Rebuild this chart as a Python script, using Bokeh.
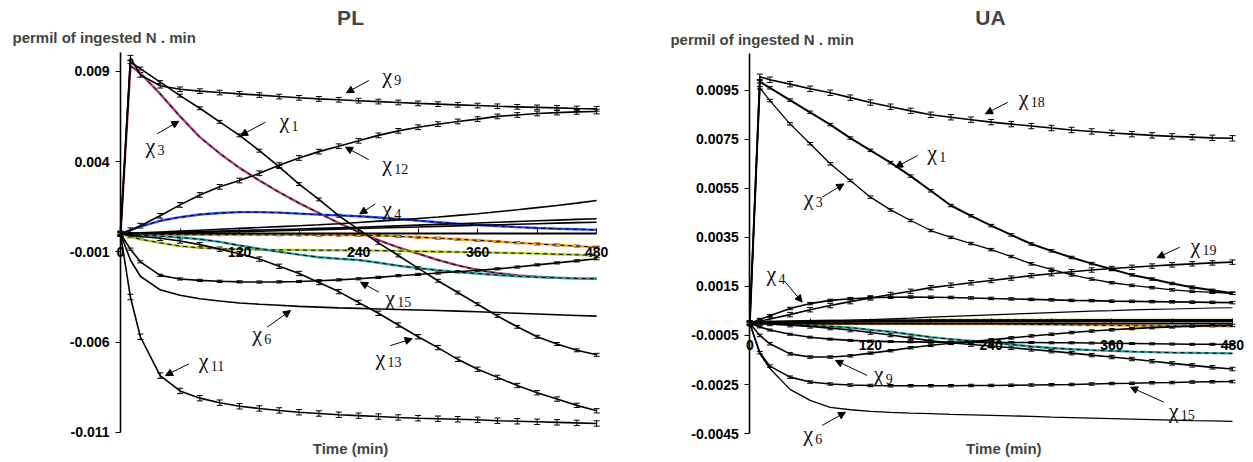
from bokeh.plotting import figure
from bokeh.layouts import row
from bokeh.models import (FixedTicker, PrintfTickFormatter, Label, Arrow, NormalHead,
                          Whisker, TeeHead, ColumnDataSource, Range1d)
from bokeh.embed import file_html
from bokeh.resources import INLINE

# ---------------- data (values in permil units x 1e-3) ----------------
T = [0, 10, 20, 40, 60, 80, 100, 120, 140, 160, 180, 200, 220, 240, 260, 280,
     300, 320, 340, 360, 380, 400, 420, 440, 460, 480]
SCALE = 1e-3

# PL panel
PL_X9 = [0, 9.75, 8.8, 8.2, 8.0, 7.9, 7.82, 7.75, 7.68, 7.6, 7.53, 7.47, 7.42, 7.37, 7.32, 7.27, 7.22, 7.18, 7.14, 7.1, 7.06, 7.03, 7.0, 6.97, 6.94, 6.92]
PL_X12 = [0, 0.2, 0.45, 1.0, 1.6, 2.15, 2.6, 2.95, 3.35, 3.8, 4.2, 4.55, 4.85, 5.15, 5.45, 5.7, 5.9, 6.07, 6.22, 6.35, 6.5, 6.58, 6.66, 6.71, 6.75, 6.77]
PL_X1 = [0, 9.5, 9.15, 8.4, 7.65, 6.95, 6.2, 5.45, 4.6, 3.7, 2.75, 1.9, 1.0, 0.25, -0.5, -1.2, -1.9, -2.6, -3.25, -3.9, -4.55, -5.15, -5.7, -6.1, -6.45, -6.7]
PL_X3 = [0, 9.3, 8.9, 7.75, 6.5, 5.35, 4.45, 3.65, 2.95, 2.3, 1.7, 1.15, 0.6, 0.1, -0.35, -0.75, -1.1, -1.45, -1.75, -2.0, -2.18, -2.3, -2.38, -2.43, -2.47, -2.49]
PL_X4 = [0, 0.2, 0.4, 0.72, 0.92, 1.07, 1.15, 1.2, 1.2, 1.17, 1.12, 1.06, 1.02, 0.97, 0.9, 0.82, 0.73, 0.64, 0.56, 0.49, 0.43, 0.37, 0.32, 0.28, 0.25, 0.22]
PL_S1 = [0, 0.02, 0.05, 0.1, 0.15, 0.2, 0.25, 0.3, 0.35, 0.4, 0.45, 0.5, 0.56, 0.63, 0.7, 0.77, 0.85, 0.93, 1.02, 1.11, 1.22, 1.33, 1.45, 1.57, 1.7, 1.84]
PL_S2 = [0, 0.01, 0.03, 0.06, 0.09, 0.12, 0.15, 0.18, 0.21, 0.24, 0.27, 0.3, 0.33, 0.36, 0.4, 0.44, 0.48, 0.52, 0.56, 0.6, 0.64, 0.68, 0.72, 0.76, 0.8, 0.83]
PL_S3 = [0, 0.01, 0.02, 0.04, 0.06, 0.08, 0.1, 0.12, 0.14, 0.17, 0.2, 0.23, 0.26, 0.29, 0.32, 0.35, 0.38, 0.41, 0.44, 0.47, 0.5, 0.53, 0.56, 0.59, 0.62, 0.64]
PL_OR = [0, -0.02, -0.03, -0.04, -0.05, -0.05, -0.05, -0.05, -0.05, -0.06, -0.06, -0.07, -0.07, -0.08, -0.1, -0.14, -0.19, -0.24, -0.3, -0.36, -0.43, -0.5, -0.56, -0.62, -0.68, -0.74]
PL_YG = [0, -0.15, -0.3, -0.5, -0.68, -0.78, -0.83, -0.86, -0.88, -0.89, -0.9, -0.91, -0.91, -0.92, -0.93, -0.95, -0.97, -0.99, -1.01, -1.03, -1.05, -1.07, -1.1, -1.13, -1.16, -1.2]
PL_TEAL = [0, -0.03, -0.07, -0.13, -0.2, -0.3, -0.45, -0.65, -0.83, -1.0, -1.15, -1.3, -1.38, -1.45, -1.6, -1.77, -1.9, -2.02, -2.12, -2.2, -2.28, -2.35, -2.4, -2.44, -2.47, -2.49]
PL_X13 = [0, -0.1, -0.15, -0.25, -0.4, -0.6, -0.85, -1.1, -1.4, -1.8, -2.2, -2.7, -3.2, -3.8, -4.4, -5.05, -5.7, -6.3, -6.95, -7.5, -7.95, -8.4, -8.8, -9.15, -9.5, -9.8]
PL_X15 = [0, -0.85, -1.55, -2.3, -2.5, -2.58, -2.63, -2.66, -2.67, -2.66, -2.64, -2.6, -2.55, -2.49, -2.41, -2.32, -2.25, -2.17, -2.1, -2.02, -1.94, -1.84, -1.72, -1.61, -1.5, -1.38]
PL_X6 = [0, -1.45, -2.35, -3.1, -3.4, -3.6, -3.72, -3.83, -3.9, -3.96, -4.02, -4.06, -4.1, -4.13, -4.16, -4.19, -4.22, -4.25, -4.28, -4.32, -4.36, -4.4, -4.44, -4.48, -4.52, -4.56]
PL_X11 = [0, -3.5, -5.7, -7.85, -8.7, -9.1, -9.35, -9.55, -9.67, -9.78, -9.88, -9.95, -10.02, -10.07, -10.12, -10.17, -10.21, -10.24, -10.27, -10.3, -10.35, -10.38, -10.41, -10.44, -10.47, -10.5]

# UA panel
UA_X18 = [0, 10.05, 9.93, 9.75, 9.56, 9.4, 9.2, 9.0, 8.83, 8.66, 8.5, 8.4, 8.3, 8.2, 8.12, 8.04, 7.96, 7.88, 7.82, 7.76, 7.71, 7.66, 7.62, 7.59, 7.56, 7.54]
UA_X1 = [0, 9.85, 9.6, 9.1, 8.6, 8.1, 7.55, 7.05, 6.55, 6.0, 5.4, 4.8, 4.38, 3.98, 3.6, 3.23, 2.95, 2.68, 2.43, 2.2, 1.97, 1.8, 1.62, 1.47, 1.34, 1.22]
UA_X3 = [0, 9.6, 9.08, 8.13, 7.32, 6.5, 5.82, 5.14, 4.62, 4.19, 3.78, 3.5, 3.25, 3.0, 2.72, 2.42, 2.2, 1.97, 1.8, 1.65, 1.54, 1.45, 1.36, 1.3, 1.26, 1.22]
UA_X19 = [0, 0.08, 0.17, 0.35, 0.55, 0.72, 0.88, 1.03, 1.17, 1.3, 1.45, 1.55, 1.65, 1.74, 1.84, 1.94, 2.02, 2.1, 2.17, 2.23, 2.28, 2.33, 2.38, 2.42, 2.46, 2.49]
UA_X4 = [0, 0.15, 0.3, 0.6, 0.8, 0.93, 1.0, 1.04, 1.06, 1.07, 1.06, 1.05, 1.03, 1.01, 0.99, 0.97, 0.95, 0.93, 0.92, 0.9, 0.89, 0.88, 0.87, 0.86, 0.85, 0.84]
UA_S1 = [0, 0.01, 0.02, 0.04, 0.06, 0.09, 0.12, 0.15, 0.18, 0.21, 0.25, 0.28, 0.31, 0.34, 0.37, 0.4, 0.43, 0.46, 0.49, 0.51, 0.54, 0.56, 0.58, 0.6, 0.62, 0.63]
UA_S0 = [0, 0.02, 0.04, 0.06, 0.07, 0.08, 0.08, 0.09, 0.09, 0.09, 0.1, 0.1, 0.1, 0.1, 0.1, 0.1, 0.1, 0.1, 0.11, 0.11, 0.11, 0.11, 0.11, 0.11, 0.11, 0.11]
UA_OL = [0, 0.02, 0.04, 0.07, 0.09, 0.1, 0.11, 0.12, 0.12, 0.12, 0.13, 0.13, 0.13, 0.13, 0.13, 0.13, 0.13, 0.13, 0.13, 0.13, 0.13, 0.13, 0.13, 0.13, 0.13, 0.13]
UA_OR = [0, -0.01, -0.02, -0.03, -0.03, -0.03, -0.03, -0.03, -0.03, -0.03, -0.03, -0.03, -0.03, -0.03, -0.04, -0.05, -0.06, -0.07, -0.08, -0.09, -0.1, -0.11, -0.11, -0.12, -0.12, -0.13]
UA_X9 = [0, -0.5, -0.84, -1.25, -1.38, -1.38, -1.33, -1.22, -1.12, -1.0, -0.9, -0.82, -0.75, -0.68, -0.6, -0.52, -0.45, -0.38, -0.32, -0.27, -0.22, -0.18, -0.15, -0.12, -0.1, -0.09]
UA_B = [0, -0.15, -0.28, -0.45, -0.57, -0.65, -0.7, -0.73, -0.75, -0.76, -0.77, -0.77, -0.78, -0.78, -0.79, -0.79, -0.8, -0.8, -0.81, -0.82, -0.83, -0.84, -0.85, -0.86, -0.86, -0.87]
UA_TEAL = [0, -0.01, -0.02, -0.05, -0.09, -0.13, -0.18, -0.27, -0.35, -0.46, -0.57, -0.65, -0.72, -0.79, -0.87, -0.95, -1.01, -1.06, -1.1, -1.13, -1.16, -1.18, -1.2, -1.21, -1.22, -1.23]
UA_C = [0, -0.01, -0.03, -0.08, -0.13, -0.2, -0.28, -0.38, -0.48, -0.6, -0.72, -0.8, -0.87, -0.93, -1.0, -1.07, -1.14, -1.22, -1.3, -1.38, -1.46, -1.55, -1.64, -1.72, -1.8, -1.87]
UA_X15 = [0, -1.2, -1.75, -2.2, -2.4, -2.48, -2.52, -2.54, -2.55, -2.55, -2.55, -2.55, -2.54, -2.54, -2.53, -2.52, -2.51, -2.5, -2.48, -2.46, -2.45, -2.43, -2.42, -2.4, -2.39, -2.38]
UA_X6 = [0, -1.25, -1.85, -2.7, -3.15, -3.43, -3.53, -3.6, -3.64, -3.67, -3.69, -3.72, -3.74, -3.76, -3.78, -3.8, -3.83, -3.85, -3.87, -3.89, -3.91, -3.93, -3.95, -3.97, -3.98, -4.0]

# error half-widths (x 1e-3) for series drawn with error bars
PL_ERR = {"X9": 0.13, "X12": 0.13, "X1": 0.08, "X11": 0.15, "X13": 0.12, "X15": 0.06, "OR": 0.05}
UA_ERR = {"X18": 0.11, "X19": 0.09, "X1": 0.05, "X3": 0.05, "X4": 0.05, "X9": 0.05,
          "B": 0.04, "C": 0.07, "X15": 0.05}

PL_TICKS_Y = [-0.011, -0.006, -0.001, 0.004, 0.009]
PL_Y_BOUNDS = (-0.011, 0.01004)
UA_TICKS_Y = [-0.0045, -0.0025, -0.0005, 0.0015, 0.0035, 0.0055, 0.0075, 0.0095]
UA_Y_BOUNDS = (-0.0045, 0.0110)
X_TICKS = [0, 60, 120, 180, 240, 300, 360, 420, 480]
X_HIDDEN = [60, 180, 300, 420]
X_BOUNDS = (0, 480)

# ---------------- styling ----------------
PURPLE = "#a3427a"
BLUE = "#2846f0"
ORANGE = "#f59a1b"
YGREEN = "#a6c81e"
TEAL = "#2d9c9c"
OLIVE = "#a89b2a"
SANS = "Liberation Sans"
SERIF = "Liberation Serif"


def draw(p, vals, color=None, err=None, width=1.6):
    y = [v * SCALE for v in vals]
    if color is not None:
        p.line(T, y, color=color, line_width=2.4)
        p.line(T, y, color="black", line_width=1.0, line_dash="4 4")
    else:
        p.line(T, y, color="black", line_width=width)
    if err is not None:
        src = ColumnDataSource(dict(x=T, lo=[v - err * SCALE for v in y],
                                    hi=[v + err * SCALE for v in y]))
        p.add_layout(Whisker(source=src, base="x", lower="lo", upper="hi",
                             line_color="black", line_width=1,
                             upper_head=TeeHead(size=6, line_width=1, line_color="black"),
                             lower_head=TeeHead(size=6, line_width=1, line_color="black")))


def chi(p, sub, tx, ty, ax0, ay0, ax1, ay1):
    p.add_layout(Label(x=tx, y=ty * SCALE, text="χ", text_font=SERIF,
                       text_font_size="22px", text_baseline="middle", text_align="left",
                       text_color="#111111"))
    p.add_layout(Label(x=tx, y=ty * SCALE, x_offset=12, y_offset=-5, text=sub,
                       text_font=SERIF, text_font_size="14px", text_baseline="middle",
                       text_align="left", text_color="#111111"))
    p.add_layout(Arrow(x_start=ax0, y_start=ay0 * SCALE, x_end=ax1, y_end=ay1 * SCALE,
                       line_width=1, line_color="black",
                       end=NormalHead(size=7, fill_color="black", line_color="black")))


def make_fig(fw, xr, yr, ybounds, yticks, fmt, standoff):
    p = figure(frame_width=fw, frame_height=462, min_border=0,
               x_range=Range1d(*xr), y_range=Range1d(*yr),
               output_backend="svg", toolbar_location=None, tools="")
    p.outline_line_color = None
    p.grid.visible = False
    p.background_fill_color = "white"
    p.yaxis.fixed_location = 0
    p.yaxis.bounds = ybounds
    p.yaxis.ticker = FixedTicker(ticks=yticks)
    p.yaxis.formatter = PrintfTickFormatter(format=fmt)
    p.yaxis.major_tick_out = 5
    p.yaxis.major_tick_in = 0
    p.yaxis.minor_tick_line_color = None
    p.yaxis.axis_line_width = 1.6
    p.yaxis.major_tick_line_width = 1.2
    p.yaxis.major_label_standoff = 6
    p.xaxis.fixed_location = 0
    p.xaxis.bounds = X_BOUNDS
    p.xaxis.ticker = FixedTicker(ticks=X_TICKS)
    p.xaxis.major_label_overrides = {t: "" for t in X_HIDDEN}
    p.xaxis.major_tick_in = 5
    p.xaxis.major_tick_out = 0
    p.xaxis.minor_tick_line_color = None
    p.xaxis.axis_line_width = 2.2
    p.xaxis.major_label_standoff = standoff
    for ax in (p.xaxis, p.yaxis):
        ax.major_label_text_font = SANS
        ax.major_label_text_font_style = "bold"
        ax.major_label_text_font_size = "14px"
        ax.major_label_text_color = "black"
        ax.axis_line_color = "black"
        ax.major_tick_line_color = "black"
    return p


def texts(p, title, tx, ty, yl_x, yl_y, tl_x, tl_y):
    p.add_layout(Label(x=tx, y=ty * SCALE, text=title, text_font=SANS, text_font_style="bold",
                       text_font_size="21px", text_align="center", text_baseline="middle"))
    p.add_layout(Label(x=yl_x, y=yl_y * SCALE, text="permil of ingested N . min", text_font=SANS,
                       text_font_style="bold", text_font_size="15px", text_align="left",
                       text_baseline="middle"))
    p.add_layout(Label(x=tl_x, y=tl_y * SCALE, text="Time (min)", text_font=SANS,
                       text_font_style="bold", text_font_size="15px", text_align="center",
                       text_baseline="middle"))


# ---------------- PL ----------------
p1 = make_fig(627, (-120.97, 511.1), (-0.012663, 0.012918), PL_Y_BOUNDS, PL_TICKS_Y, "%.3f", 13)
draw(p1, PL_X3, PURPLE)
draw(p1, PL_X4, BLUE)
draw(p1, PL_OR, ORANGE, PL_ERR["OR"])
draw(p1, PL_YG, YGREEN)
draw(p1, PL_TEAL, TEAL)
draw(p1, PL_S1)
draw(p1, PL_S2)
draw(p1, PL_S3)
draw(p1, PL_X9, err=PL_ERR["X9"])
draw(p1, PL_X12, err=PL_ERR["X12"])
draw(p1, PL_X1, err=PL_ERR["X1"])
draw(p1, PL_X13, err=PL_ERR["X13"])
draw(p1, PL_X15, err=PL_ERR["X15"])
draw(p1, PL_X6)
draw(p1, PL_X11, err=PL_ERR["X11"])

chi(p1, "9", 263.8, 8.77, 250.3, 8.49, 227.8, 7.81)
chi(p1, "1", 160.3, 6.27, 146.2, 6.18, 121.0, 5.44)
chi(p1, "3", 25.2, 4.89, 37.0, 5.54, 58.8, 6.23)
chi(p1, "12", 263.8, 3.88, 250.3, 4.10, 226.8, 4.80)
chi(p1, "4", 263.8, 1.38, 257.0, 1.66, 241.2, 1.10)
chi(p1, "15", 267.0, -3.51, 260.4, -3.23, 242.0, -2.68)
chi(p1, "13", 257.0, -6.83, 272.0, -6.19, 294.0, -5.81)
chi(p1, "6", 132.8, -5.54, 147.9, -5.17, 171.4, -4.25)
chi(p1, "11", 79.0, -7.02, 68.9, -7.20, 45.4, -7.85)
texts(p1, "PL", 231.9, 11.98, -108.9, 10.87, 231.9, -11.89)

# ---------------- UA ----------------
p2 = make_fig(626, (-121.6, 500.9), (-0.005681, 0.013161), UA_Y_BOUNDS, UA_TICKS_Y, "%.4f", 17)
draw(p2, UA_OL, OLIVE)
draw(p2, UA_OR, ORANGE)
draw(p2, UA_TEAL, TEAL)
draw(p2, UA_S0, width=3)
draw(p2, UA_S1, width=1.2)
draw(p2, UA_X18, err=UA_ERR["X18"])
draw(p2, UA_X1, err=UA_ERR["X1"], width=2)
draw(p2, UA_X3, err=UA_ERR["X3"], width=1.3)
draw(p2, UA_X19, err=UA_ERR["X19"])
draw(p2, UA_X4, err=UA_ERR["X4"])
draw(p2, UA_X9, err=UA_ERR["X9"])
draw(p2, UA_B, err=UA_ERR["B"])
draw(p2, UA_C, err=UA_ERR["C"])
draw(p2, UA_X15, err=UA_ERR["X15"])
draw(p2, UA_X6, width=1.3)

chi(p2, "18", 267.5, 9.22, 256.6, 9.01, 234.4, 8.54)
chi(p2, "1", 176.4, 6.97, 167.0, 6.84, 144.9, 6.36)
chi(p2, "3", 53.7, 5.14, 72.0, 5.14, 93.5, 5.68)
chi(p2, "19", 438.2, 3.17, 427.6, 3.10, 405.1, 2.67)
chi(p2, "4", 16.6, 2.01, 35.5, 1.67, 52.1, 0.86)
chi(p2, "9", 123.3, -2.06, 116.7, -2.13, 85.2, -1.52)
chi(p2, "15", 416.7, -3.56, 411.7, -3.22, 378.6, -2.61)
chi(p2, "6", 53.1, -4.51, 72.0, -4.17, 95.2, -3.63)
texts(p2, "UA", 239.4, 12.47, -78.9, 11.57, 252.6, -5.11)

layout = row(p1, p2)
open("out.html", "w").write(file_html(layout, INLINE))
